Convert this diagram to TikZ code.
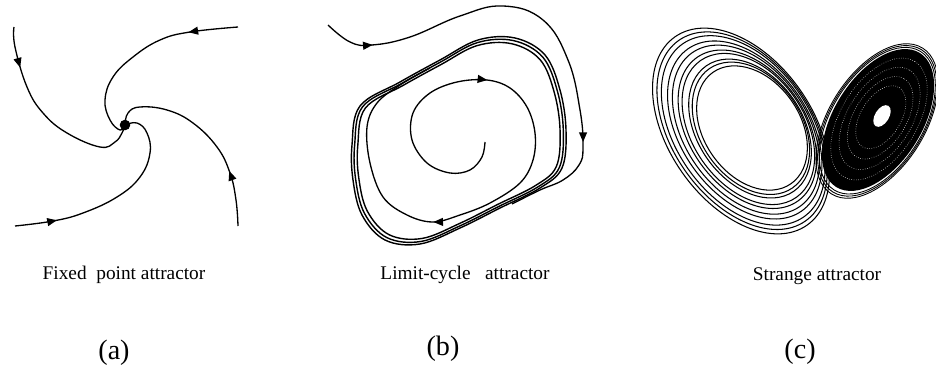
\documentclass[tikz,border=0pt]{standalone}
\usepackage{fontspec}
\setmainfont{Liberation Serif}
\usetikzlibrary{arrows.meta,decorations.markings}

\tikzset{
  traj/.style={line width=0.75pt, black},
  flow/.style={postaction={decorate, decoration={markings,
      mark=at position #1 with {\arrow{Triangle[length=5.5pt,width=4.5pt]}}}}},
  wing/.style={line width=0.6pt, black},
  caption/.style={anchor=base, font=\fontsize{11}{13}\selectfont},
  tag/.style={anchor=base, font=\fontsize{16}{19}\selectfont},
}

\begin{document}
\begin{tikzpicture}[x=0.02cm, y=-0.02cm]
  \useasboundingbox (0,0) rectangle (936,368);

  % (a) four trajectories spiralling into a stable point
  \node[circle, fill=black, inner sep=0pt, minimum size=6pt] (fp) at (125,125) {};
  \draw[traj, flow=0.21] plot[smooth, tension=0.7] coordinates
    {(14,27) (15,47) (27,87) (43,113) (67,133) (100,147) (115,142) (122,133) (fp.center)};
  \draw[traj, flow=0.24] plot[smooth, tension=0.7] coordinates
    {(238,27) (190,32) (160,40) (133,57) (113,77) (105,100) (110,120) (120,130) (fp.center)};
  \draw[traj, flow=0.28] plot[smooth, tension=0.7] coordinates
    {(238,226) (236,200) (230,173) (217,147) (193,123) (167,110) (140,107) (128,113) (fp.center)};
  \draw[traj, flow=0.2] plot[smooth, tension=0.7] coordinates
    {(15,226) (53,221) (83,213) (117,197) (140,177) (150,153) (147,133) (137,123) (fp.center)};

  % (b) limit cycle, drawn three times close together
  \foreach \s in {1,0.975,0.945}
    \draw[traj, line width=0.8pt, shift={(458,143)}, scale=\s] plot[smooth cycle, tension=0.6] coordinates
      {(-98,-37) (-58,-61) (-18,-83) (20,-103) (57,-105) (87,-88) (102,-53) (108,-13)
       (104,25) (82,45) (42,65) (2,85) (-38,101) (-73,97) (-96,72) (-105,37) (-106,2)};
  % trajectory coming in from outside
  \draw[traj, flow=0.11, flow=0.78] plot[smooth, tension=0.7] coordinates
    {(328,25) (350,42) (372,45) (410,37) (460,16) (503,6) (543,20) (568,60)
     (580,110) (583,147) (579,165) (563,180) (540,190) (512,204)};
  % trajectory winding out from the unstable centre
  \draw[traj, flow=0.33, flow=0.67] plot[smooth, tension=0.6] coordinates
    {(485,142) (482,157) (470,170) (450,173) (427,163) (412,140) (413,113) (430,93)
     (457,82) (487,80) (510,88) (527,107) (535,133) (533,160) (520,183) (490,203)
     (460,215) (433,222) (407,215) (383,197) (370,163) (367,127) (377,103) (400,85) (430,68)};

  % (c) strange attractor, left wing: rings opening out from the hole
  \foreach \t in {0,0.1,0.18,0.33,0.42,0.55,0.66,0.8,0.9,1}{
    \pgfmathsetmacro\cx{752-11*\t}
    \pgfmathsetmacro\cy{128+3*\t}
    \pgfmathsetmacro\ra{68+47*\t}
    \pgfmathsetmacro\rb{48+24*\t}
    \draw[wing] (\cx,\cy) ellipse [x radius=\ra, y radius=\rb, rotate=-55];
  }
  % right wing, dense and nearly solid
  \fill[black] (878,120) ellipse [x radius=79, y radius=44, rotate=58];
  \foreach \t in {0.3,0.45,0.6,0.75}{
    \pgfmathsetmacro\cx{882-4*\t}
    \pgfmathsetmacro\cy{116+4*\t}
    \pgfmathsetmacro\ra{13+73*\t}
    \pgfmathsetmacro\rb{8+40*\t}
    \draw[white, line width=0.3pt, densely dotted] (\cx,\cy) ellipse [x radius=\ra, y radius=\rb, rotate=58];
  }
  \foreach \t in {0.94,0.97,1}{
    \pgfmathsetmacro\cx{882-5*\t}
    \pgfmathsetmacro\cy{116+5*\t}
    \pgfmathsetmacro\ra{13+73*\t}
    \pgfmathsetmacro\rb{8+40*\t}
    \draw[wing, line width=0.5pt] (\cx,\cy) ellipse [x radius=\ra, y radius=\rb, rotate=58];
  }
  \fill[white] (882,116) ellipse [x radius=12, y radius=7, rotate=58];

  % captions
  \node[caption] (capA) at (124,279) {Fixed\ \ point attractor};
  \node[caption] (capB) at (465,279) {Limit-cycle\ \ \ attractor};
  \node[caption] (capC) at (817,280) {Strange attractor};
  \node[tag] (tagA) at (114,359) {(a)};
  \node[tag] (tagB) at (443,355) {(b)};
  \node[tag] (tagC) at (800,358) {(c)};

\end{tikzpicture}
\end{document}
